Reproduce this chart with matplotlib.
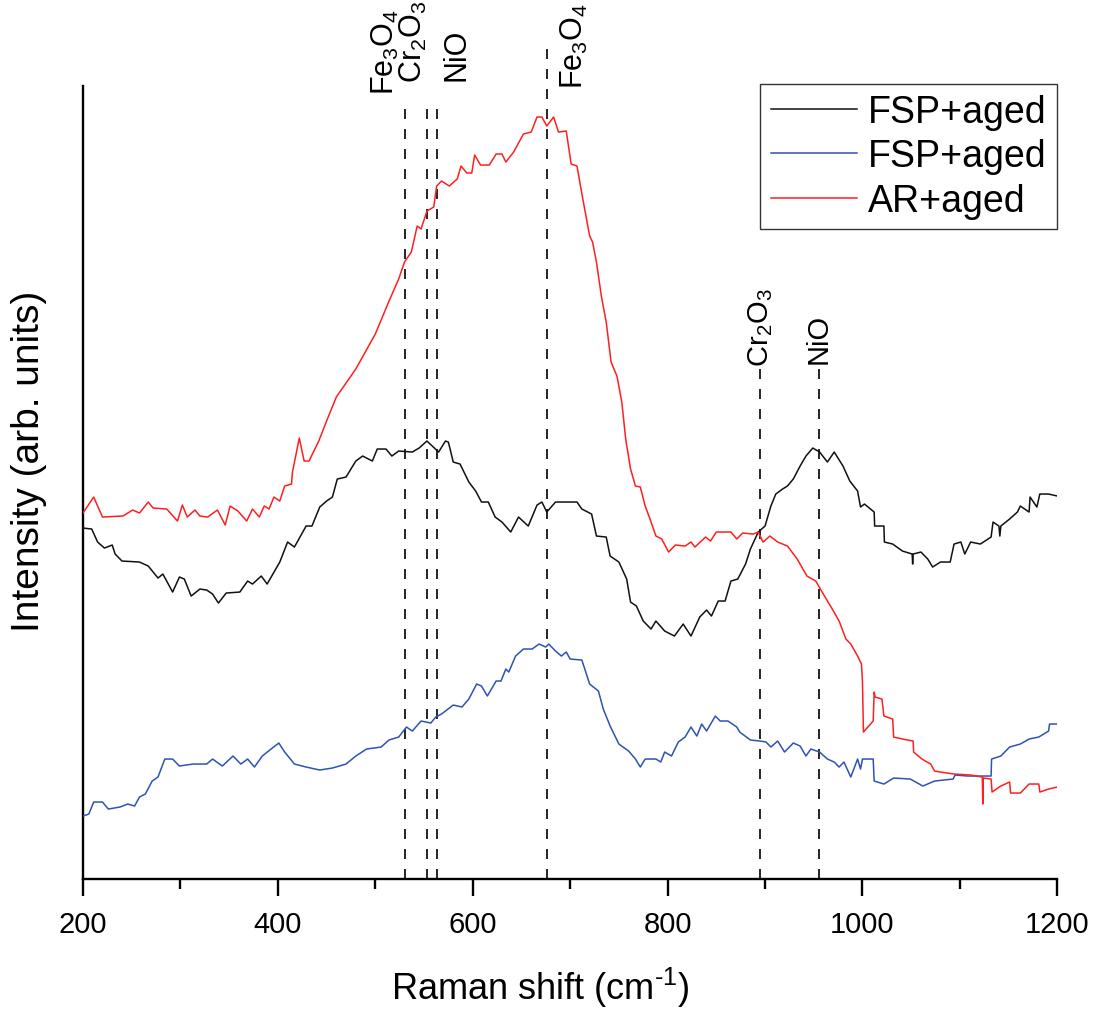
import numpy as np
import matplotlib
matplotlib.use("Agg")
import matplotlib.pyplot as plt
import matplotlib.transforms as mtransforms

plt.rcParams['font.family'] = ['Liberation Sans', 'DejaVu Sans']
plt.rcParams['mathtext.fontset'] = 'custom'
plt.rcParams['mathtext.rm'] = 'Liberation Sans'
plt.rcParams['mathtext.it'] = 'Liberation Sans'
plt.rcParams['mathtext.bf'] = 'Liberation Sans:bold'

# --- data (Raman shift in cm-1, intensity in arb. units) ---
ar_x = [200, 211, 220, 241, 251, 258, 267, 272, 286, 297, 302, 307, 315, 320, 328, 338, 346, 351,
        359, 368, 374, 381, 386, 391, 396, 402, 407, 414, 415, 422, 427, 432, 442, 450, 460, 480,
        500, 515, 524, 530, 537, 543, 547, 553, 560, 563, 568, 576, 584, 588, 594, 599, 602, 608,
        617, 624, 630, 634, 642, 652, 660, 666, 671, 676, 683, 688, 696, 701, 707, 713, 720, 723,
        727, 732, 737, 742, 748, 753, 757, 762, 767, 772, 777, 782, 788, 794, 801, 808, 818, 824,
        828, 839, 844, 850, 857, 865, 871, 877, 888, 893, 898, 905, 913, 923, 933, 943, 952, 961,
        969, 976, 983, 988, 995, 999, 1000, 1001, 1011, 1012, 1013, 1020, 1022, 1031, 1032, 1041,
        1052, 1052.5, 1061, 1070, 1074, 1080, 1094, 1111, 1123, 1123.5, 1124, 1132, 1133, 1142,
        1151, 1152, 1162, 1171, 1181, 1182, 1191, 1200]
ar_y = [366, 382, 362, 363, 369, 366, 377, 371, 370, 358, 374, 362, 369, 363, 362, 369, 354, 373,
        368, 358, 370, 362, 373, 370, 382, 378, 393, 395, 407, 441, 418, 418, 438, 458, 482, 510,
        545, 580, 600, 617, 627, 653, 650, 668, 672, 693, 698, 693, 700, 713, 706, 706, 724, 714,
        714, 725, 725, 717, 727, 745, 747, 762, 762, 753, 762, 747, 748, 715, 713, 680, 643, 637,
        617, 583, 557, 517, 503, 477, 440, 410, 393, 392, 373, 360, 343, 340, 327, 334, 333, 337,
        332, 342, 338, 347, 347, 347, 340, 346, 345, 347, 337, 343, 337, 333, 320, 303, 298, 283,
        270, 258, 240, 235, 223, 215, 197, 147, 158, 187, 182, 180, 163, 160, 142, 140,
        138, 127, 120, 115, 108, 107, 105, 104, 102, 75, 101, 100, 87, 93,
        97, 86, 86, 95, 95, 87, 90, 92]

fsp1_x = [200, 209, 215, 222, 230, 233, 240, 258, 267, 277, 282, 292, 299, 304, 311, 320, 327, 333,
          339, 347, 361, 369, 374, 383, 389, 402, 410, 417, 429, 435, 443, 450, 456, 461, 470, 480,
          487, 497, 502, 511, 517, 524, 538, 545, 553, 565, 572, 575, 580, 587, 596, 603, 609, 616,
          623, 630, 639, 647, 657, 666, 671, 676, 685, 707, 712, 722, 727, 737, 741, 750, 758, 762,
          768, 775, 783, 788, 797, 807, 816, 824, 833, 840, 845, 852, 859, 865, 872, 880, 885, 893,
          900, 906, 911, 918, 923, 929, 936, 942, 949, 956, 964, 971, 980, 987, 995, 998, 1002,
          1012, 1012.5, 1022, 1022.5, 1031, 1041, 1051, 1051.5, 1052, 1060, 1067, 1072, 1080, 1090,
          1094, 1101, 1105, 1111, 1121, 1132, 1134, 1140, 1141, 1142, 1151, 1159, 1162, 1171, 1172,
          1179, 1182, 1191, 1200]
fsp1_y = [351, 350, 337, 331, 334, 325, 318, 317, 313, 301, 305, 287, 302, 300, 283, 290, 289, 285,
          276, 286, 287, 298, 295, 303, 295, 317, 337, 332, 353, 353, 372, 378, 382, 400, 402, 418,
          423, 418, 430, 430, 423, 428, 427, 431, 438, 427, 438, 437, 417, 415, 397, 388, 377, 377,
          362, 357, 347, 362, 353, 374, 377, 367, 377, 377, 370, 365, 343, 342, 323, 317, 300, 277,
          273, 258, 250, 258, 248, 243, 255, 243, 262, 269, 263, 278, 278, 298, 300, 315, 330, 347,
          353, 373, 385, 390, 393, 400, 413, 423, 431, 427, 417, 427, 413, 398, 388, 372, 375,
          367, 353, 353, 337, 335, 328, 325, 315, 325, 327, 320, 312, 317, 317,
          335, 337, 325, 337, 335, 342, 357, 353, 343, 353, 360, 367, 373, 367, 382,
          372, 385, 385, 383]

fsp2_x = [200, 206, 211, 220, 226, 238, 246, 253, 258, 264, 271, 277, 284, 292, 299, 313, 327, 333,
          343, 354, 362, 369, 376, 384, 393, 401, 407, 417, 429, 443, 456, 470, 480, 491, 506, 514,
          524, 532, 538, 547, 557, 562, 568, 580, 589, 596, 604, 609, 615, 624, 629, 634, 637, 644,
          652, 661, 668, 675, 678, 685, 691, 696, 700, 712, 720, 729, 734, 741, 750, 760, 767, 772,
          777, 788, 793, 797, 804, 811, 818, 824, 830, 835, 840, 849, 854, 862, 871, 874, 885, 895,
          901, 906, 913, 920, 929, 936, 942, 947, 956, 964, 971, 976, 981, 988, 995, 998, 1000,
          1011, 1012, 1022, 1032, 1049, 1062, 1074, 1093, 1095, 1108, 1121, 1132, 1132.5, 1142,
          1151, 1162, 1171, 1181, 1191, 1192, 1200]
fsp2_y = [63, 65, 77, 77, 70, 72, 75, 73, 82, 85, 98, 102, 120, 120, 113, 115, 115, 120,
          113, 123, 115, 120, 112, 123, 130, 136, 127, 115, 112, 109, 111, 115, 123, 130, 132, 139,
          142, 152, 148, 158, 156, 162, 165, 174, 172, 180, 195, 193, 183, 198, 198, 210, 207, 223,
          230, 230, 235, 232, 235, 228, 223, 227, 220, 219, 195, 188, 170, 153, 135, 128, 120, 112,
          120, 120, 117, 127, 123, 137, 142, 152, 143, 155, 148, 163, 158, 158, 152, 147, 139, 138,
          137, 132, 138, 127, 136, 133, 123, 130, 127, 120, 117, 112, 117, 102, 120, 110, 120,
          120, 98, 95, 101, 100, 93, 98, 100, 104, 103, 103, 103, 120, 123,
          132, 135, 140, 142, 148, 155, 155]

# reference peak positions
peak_pos = [530, 553, 563, 676, 895, 955]
peak_lab = [r'Fe$_3$O$_4$', r'Cr$_2$O$_3$', 'NiO', r'Fe$_3$O$_4$', r'Cr$_2$O$_3$', 'NiO']

fig = plt.figure(figsize=(10.99, 10.12), dpi=100)
ax = fig.add_axes([0.0755, 0.1304, 0.8866, 0.7836])

ax.plot(fsp1_x, fsp1_y, color='#111111', lw=1.1, label='FSP+aged', zorder=3)
ax.plot(fsp2_x, fsp2_y, color='#2f52b4', lw=1.1, label='FSP+aged', zorder=3)
ax.plot(ar_x, ar_y, color='#ff1f1f', lw=1.1, label='AR+aged', zorder=3)

ax.set_xlim(200, 1200)
ax.set_ylim(0, 793)

# dashed reference lines and labels
trans = mtransforms.blended_transform_factory(ax.transData, ax.transAxes)
line_top = [0.977, 0.977, 0.977, 1.05, 0.643, 0.647]
lab_y = [0.99, 1.005, 1.008, 0.997, 0.647, 0.651]
lab_dx = [-14, -10, 14, 20, 0, 0]
lab_fs = [22, 22, 22, 22, 21, 21]
for pos, lab, top, ly, dx, fs in zip(peak_pos, peak_lab, line_top, lab_y, lab_dx, lab_fs):
    ax.plot([pos, pos], [0, top], transform=trans, color='black', lw=1.2,
            ls=(0, (6, 6)), clip_on=False, zorder=2)
    ax.annotate(lab, xy=(pos, ly), xycoords=trans, xytext=(dx, 0),
                textcoords='offset points', rotation=90, ha='center', va='bottom',
                fontsize=fs, annotation_clip=False)

for s in ['top', 'right']:
    ax.spines[s].set_visible(False)
for s in ['left', 'bottom']:
    ax.spines[s].set_linewidth(1.7)

ax.set_xticks([200, 400, 600, 800, 1000, 1200])
ax.set_xticks([300, 500, 700, 900, 1100], minor=True)
ax.tick_params(axis='x', which='major', direction='out', length=12, width=1.7,
               labelsize=21, pad=10)
ax.tick_params(axis='x', which='minor', direction='out', length=7, width=1.7)
ax.set_yticks([])

ax.set_xlabel(r'Raman shift (cm$^{\text{-1}}$)', fontsize=26)
ax.xaxis.set_label_coords(0.469, -0.108)
ax.set_ylabel('Intensity (arb. units)', fontsize=28)
ax.yaxis.set_label_coords(-0.037, 0.528)

leg = ax.legend(loc='upper right', bbox_to_anchor=(1.0, 1.003), borderaxespad=0,
                fontsize=27, frameon=True, fancybox=False, edgecolor='black',
                handlelength=2.3, handletextpad=0.3, labelspacing=0.22,
                borderpad=0.28)
leg.get_frame().set_linewidth(1.0)

fig.savefig('out.png', dpi=100)
